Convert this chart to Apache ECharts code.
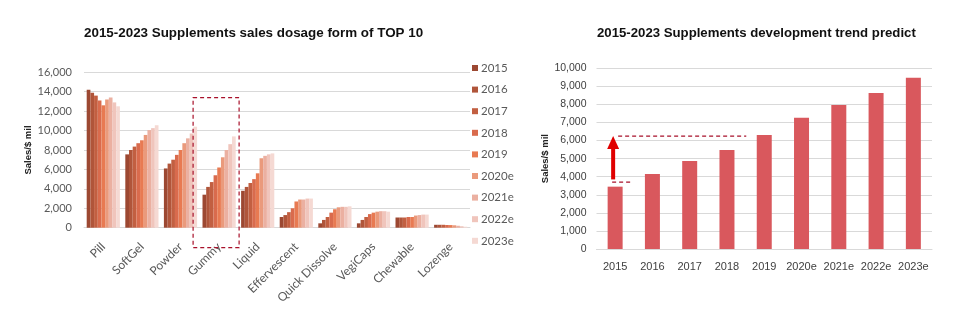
<!DOCTYPE html>
<html><head><meta charset="utf-8">
<script src="https://cdn.jsdelivr.net/npm/echarts@6/dist/echarts.min.js"></script>
<style>html,body{margin:0;padding:0;background:#fff}#c{width:976px;height:322px}</style>
</head><body><div id="c"></div>
<script>
// ---- data ----
const forms = ['Pill','SoftGel','Powder','Gummy','Liquid','Effervescent','Quick Dissolve','VegiCaps','Chewable','Lozenge'];
const yearNames = ['2015','2016','2017','2018','2019','2020e','2021e','2022e','2023e'];
const s2015 = [14200, 7550, 6100, 3400, 3800, 1100, 450, 450, 1050, 300];
const s2016 = [13900, 8000, 6600, 4200, 4200, 1300, 800, 800, 1050, 300];
const s2017 = [13600, 8350, 7000, 4700, 4600, 1600, 1100, 1100, 1050, 300];
const s2018 = [13100, 8700, 7500, 5400, 5000, 2000, 1550, 1400, 1100, 280];
const s2019 = [12600, 9000, 8000, 6200, 5600, 2700, 1900, 1550, 1100, 270];
const s2020e = [13200, 9550, 8700, 7250, 7150, 2900, 2100, 1650, 1250, 250];
const s2021e = [13400, 10050, 9200, 8000, 7400, 2900, 2150, 1700, 1300, 200];
const s2022e = [12900, 10250, 9700, 8600, 7550, 3000, 2150, 1700, 1350, 150];
const s2023e = [12500, 10550, 10400, 9400, 7650, 3000, 2200, 1650, 1350, 100];
const trendYears = ['2015','2016','2017','2018','2019','2020e','2021e','2022e','2023e'];
const trendValues = [3450, 4150, 4870, 5480, 6310, 7270, 7970, 8630, 9480];
const leftTicks = {min: 0, max: 16000, interval: 2000};
const rightTicks = {min: 0, max: 10000, interval: 1000};

// ---- styles ----
const yearSeries = [s2015, s2016, s2017, s2018, s2019, s2020e, s2021e, s2022e, s2023e];
const colors = ['#9c4832','#b0553a','#c25f41','#d96b4d','#e87a52','#ea9a7c','#ebb0a1','#f0c5bc','#f5d9d3'];
const fmt = v => String(v).replace(/\B(?=(\d{3})+(?!\d))/g, ',');
const gray = '#595959';
const labFont = 'Lato, "Open Sans", sans-serif';
const arial = '"Liberation Sans", Arial, sans-serif';

const chart = echarts.init(document.getElementById('c'), null, {renderer: 'canvas'});

const series = yearSeries.map((d, i) => ({
  name: yearNames[i], type: 'bar', xAxisIndex: 0, yAxisIndex: 0,
  data: d, barGap: '0%', barCategoryGap: '14%',
  itemStyle: {color: colors[i]}, animation: false
}));
series.push({
  name: 'trend', type: 'bar', xAxisIndex: 1, yAxisIndex: 1,
  data: trendValues, barWidth: 15, itemStyle: {color: '#d9585d'}, animation: false
});

chart.setOption({
  animation: false,
  color: colors,
  title: [
    {text: '2015-2023 Supplements sales dosage form of TOP 10', left: 84, top: 27, padding: 0,
     textStyle: {fontFamily: arial, fontSize: 13.4, fontWeight: 'bold', color: '#111'}},
    {text: '2015-2023 Supplements development trend predict', left: 597, top: 27, padding: 0,
     textStyle: {fontFamily: arial, fontSize: 13.2, fontWeight: 'bold', color: '#111'}}
  ],
  legend: {
    data: yearNames, orient: 'vertical', left: 472, top: 61, padding: 0,
    itemWidth: 6, itemHeight: 6, itemGap: 7.6, icon: 'rect',
    textStyle: {fontFamily: labFont, fontSize: 11.5, color: gray, lineHeight: 14, padding: [0,0,0,-2]}
  },
  grid: [
    {left: 84, right: 506, top: 72.3, bottom: 94.3},
    {left: 596.5, right: 44, top: 68.3, bottom: 73}
  ],
  xAxis: [
    {type: 'category', gridIndex: 0, data: forms,
     axisLine: {lineStyle: {color: '#d9d9d9'}}, axisTick: {show: false},
     axisLabel: {rotate: 45, interval: 0, margin: 17, fontFamily: labFont, fontSize: 12, color: gray}},
    {type: 'category', gridIndex: 1, data: trendYears,
     axisLine: {lineStyle: {color: '#d9d9d9'}}, axisTick: {show: false},
     axisLabel: {interval: 0, margin: 12, fontFamily: arial, fontSize: 11, color: '#404040'}}
  ],
  yAxis: [
    {type: 'value', gridIndex: 0, min: leftTicks.min, max: leftTicks.max, interval: leftTicks.interval,
     name: 'Sales/$ mil', nameLocation: 'middle', nameGap: 44, nameRotate: 90,
     nameTextStyle: {fontFamily: arial, fontSize: 9.5, fontWeight: 'bold', color: '#222'},
     axisLine: {show: false}, axisTick: {show: false},
     axisLabel: {formatter: fmt, margin: 12, fontFamily: labFont, fontSize: 11, color: gray},
     splitLine: {lineStyle: {color: '#d9d9d9'}}},
    {type: 'value', gridIndex: 1, min: rightTicks.min, max: rightTicks.max, interval: rightTicks.interval,
     name: 'Sales/$ mil', nameLocation: 'middle', nameGap: 46, nameRotate: 90,
     nameTextStyle: {fontFamily: arial, fontSize: 9.5, fontWeight: 'bold', color: '#222'},
     axisLine: {show: false}, axisTick: {show: false},
     axisLabel: {formatter: fmt, margin: 10, fontFamily: arial, fontSize: 10.5, color: '#404040'},
     splitLine: {lineStyle: {color: '#d9d9d9'}}}
  ],
  series: series
});

// ---- annotations (positioned through the axes) ----
const gummyX = chart.convertToPixel({xAxisIndex: 0}, 'Gummy');
const boxTop = chart.convertToPixel({yAxisIndex: 0}, 13400);
const leftZero = chart.convertToPixel({yAxisIndex: 0}, 0);
const x2015 = chart.convertToPixel({xAxisIndex: 1}, '2015');
const x2019 = chart.convertToPixel({xAxisIndex: 1}, '2019');
const yHigh = chart.convertToPixel({yAxisIndex: 1}, 6250);
const yLow = chart.convertToPixel({yAxisIndex: 1}, 3700);
const yArrowBase = chart.convertToPixel({yAxisIndex: 1}, 3850);
const dash = {stroke: '#a8102a', lineWidth: 1.2, lineDash: [4, 3]};
const ax = x2015 - 2;
chart.setOption({
  graphic: [
    {type: 'rect', shape: {x: gummyX - 26, y: boxTop, width: 46, height: leftZero - boxTop + 20},
     style: {fill: 'none', stroke: '#a8102a', lineWidth: 1.2, lineDash: [4, 3]}, z: 100},
    {type: 'line', shape: {x1: x2015 + 3, y1: yHigh, x2: x2019 - 18, y2: yHigh}, style: dash, z: 100},
    {type: 'line', shape: {x1: x2015 - 3, y1: yLow, x2: x2015 + 15, y2: yLow}, style: dash, z: 100},
    {type: 'line', shape: {x1: ax, y1: yArrowBase, x2: ax, y2: yHigh + 12},
     style: {stroke: '#e00000', lineWidth: 4}, z: 101},
    {type: 'polygon', shape: {points: [[ax - 6, yHigh + 13], [ax + 6, yHigh + 13], [ax, yHigh]]},
     style: {fill: '#e00000'}, z: 101}
  ]
});
</script></body></html>
